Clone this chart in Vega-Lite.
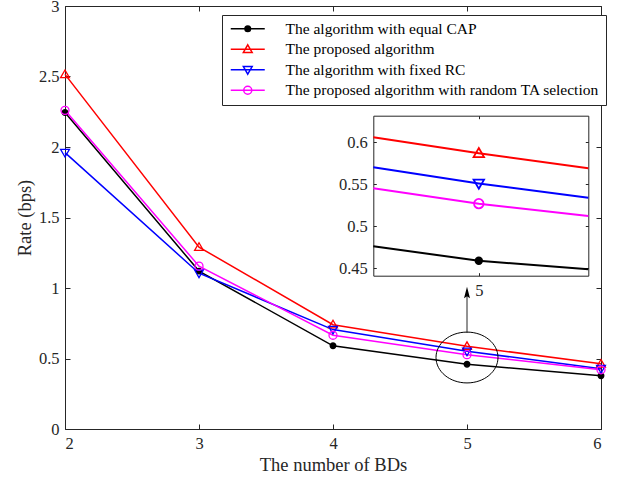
{
  "$schema": "https://vega.github.io/schema/vega-lite/v6.json",
  "width": 536,
  "height": 423,
  "autosize": "none",
  "padding": {"left": 65, "top": 6, "right": 19, "bottom": 49},
  "background": "white",
  "config": {
    "view": {"stroke": null},
    "font": "Liberation Serif",
    "axis": {
      "grid": false,
      "domainColor": "#262626",
      "tickColor": "#262626",
      "labelColor": "#262626",
      "titleColor": "#262626",
      "labelFont": "Liberation Serif",
      "titleFont": "Liberation Serif",
      "labelFontSize": 16.5,
      "titleFontSize": 18.5,
      "titleFontWeight": "normal"
    },
    "legend": {
      "labelFont": "Liberation Serif",
      "labelFontSize": 15.5,
      "labelColor": "#000000",
      "labelLimit": 500
    }
  },
  "datasets": {
    "main": [
      {"n": 2, "series": "The algorithm with equal CAP", "rate": 2.245},
      {"n": 3, "series": "The algorithm with equal CAP", "rate": 1.12},
      {"n": 4, "series": "The algorithm with equal CAP", "rate": 0.59},
      {"n": 5, "series": "The algorithm with equal CAP", "rate": 0.459},
      {"n": 6, "series": "The algorithm with equal CAP", "rate": 0.378},
      {"n": 2, "series": "The proposed algorithm", "rate": 2.515},
      {"n": 3, "series": "The proposed algorithm", "rate": 1.29},
      {"n": 4, "series": "The proposed algorithm", "rate": 0.74},
      {"n": 5, "series": "The proposed algorithm", "rate": 0.587},
      {"n": 6, "series": "The proposed algorithm", "rate": 0.462},
      {"n": 2, "series": "The algorithm with fixed RC", "rate": 1.96},
      {"n": 3, "series": "The algorithm with fixed RC", "rate": 1.105},
      {"n": 4, "series": "The algorithm with fixed RC", "rate": 0.705},
      {"n": 5, "series": "The algorithm with fixed RC", "rate": 0.551},
      {"n": 6, "series": "The algorithm with fixed RC", "rate": 0.428},
      {"n": 2, "series": "The proposed algorithm with random TA selection", "rate": 2.26},
      {"n": 3, "series": "The proposed algorithm with random TA selection", "rate": 1.155},
      {"n": 4, "series": "The proposed algorithm with random TA selection", "rate": 0.665},
      {"n": 5, "series": "The proposed algorithm with random TA selection", "rate": 0.527},
      {"n": 6, "series": "The proposed algorithm with random TA selection", "rate": 0.42}
    ],
    "inset": [
      {"n": 4.868, "series": "The algorithm with equal CAP", "rate": 0.4762},
      {"n": 5, "series": "The algorithm with equal CAP", "rate": 0.459},
      {"n": 5.137, "series": "The algorithm with equal CAP", "rate": 0.4488},
      {"n": 4.868, "series": "The proposed algorithm", "rate": 0.606},
      {"n": 5, "series": "The proposed algorithm", "rate": 0.587},
      {"n": 5.137, "series": "The proposed algorithm", "rate": 0.569},
      {"n": 4.868, "series": "The algorithm with fixed RC", "rate": 0.5702},
      {"n": 5, "series": "The algorithm with fixed RC", "rate": 0.551},
      {"n": 5.137, "series": "The algorithm with fixed RC", "rate": 0.534},
      {"n": 4.868, "series": "The proposed algorithm with random TA selection", "rate": 0.5452},
      {"n": 5, "series": "The proposed algorithm with random TA selection", "rate": 0.527},
      {"n": 5.137, "series": "The proposed algorithm with random TA selection", "rate": 0.5123}
    ],
    "ellipse": [{"n": 5, "rate": 0.507}],
    "arrow": [{"n": 5, "from": 0.681, "to": 0.95, "tip": 1.009}]
  },
  "layer": [
    {
      "layer": [
        {
          "data": {"name": "main"},
          "mark": {"type": "line", "strokeWidth": 1.5},
          "encoding": {
            "x": {"field": "n", "type": "quantitative", "scale": {"domain": [2, 6], "nice": false, "zero": false},
              "axis": {"orient": "bottom", "values": [2, 3, 4, 5, 6], "format": "d", "tickSize": -5, "labelPadding": 11, "title": "The number of BDs", "titlePadding": 4}},
            "y": {"field": "rate", "type": "quantitative", "scale": {"domain": [0, 3], "nice": false, "zero": false},
              "axis": {"orient": "left", "values": [0, 0.5, 1, 1.5, 2, 2.5, 3], "format": "~g", "tickSize": -5, "labelPadding": 11, "title": "Rate (bps)", "titlePadding": 4}},
            "color": {"field": "series", "type": "nominal",
              "scale": {"domain": ["The algorithm with equal CAP", "The proposed algorithm", "The algorithm with fixed RC", "The proposed algorithm with random TA selection"], "range": ["#000000", "#FF0000", "#0000FF", "#FF00FF"]},
              "legend": {
                "title": null, "orient": "none", "legendX": 157, "legendY": 9,
                "strokeColor": "#262626", "fillColor": "white", "padding": 6,
                "symbolSize": 64, "symbolOffset": 12, "labelOffset": 30, "rowPadding": 3.5, "symbolStrokeWidth": 1.5,
                "encode": {"symbols": {"update": {"shape": {"signal": "datum.value === 'The algorithm with equal CAP' ? 'M-4.25,0H4.25M0.7,0A0.7,0.7 0 1,1 -0.7,0A0.7,0.7 0 1,1 0.7,0Z' : datum.value === 'The proposed algorithm' ? 'M-4.25,0H4.25M0,-1.1L1.1,0.8L-1.1,0.8Z' : datum.value === 'The algorithm with fixed RC' ? 'M-4.25,0H4.25M0,1.1L1.1,-0.8L-1.1,-0.8Z' : 'M-4.25,0H4.25M1,0A1,1 0 1,1 -1,0A1,1 0 1,1 1,0Z'"}}}}
              }}
          }
        },
        {
          "data": {"name": "main"},
          "mark": {"type": "point", "filled": false, "opacity": 1, "size": 64, "strokeWidth": 1.3},
          "encoding": {
            "x": {"field": "n", "type": "quantitative", "scale": {"domain": [2, 6], "nice": false, "zero": false}, "axis": null},
            "y": {"field": "rate", "type": "quantitative", "scale": {"domain": [0, 3], "nice": false, "zero": false}, "axis": null},
            "color": {"field": "series", "type": "nominal",
              "scale": {"domain": ["The algorithm with equal CAP", "The proposed algorithm", "The algorithm with fixed RC", "The proposed algorithm with random TA selection"], "range": ["#000000", "#FF0000", "#0000FF", "#FF00FF"]}},
            "shape": {"field": "series", "type": "nominal", "legend": null,
              "scale": {"domain": ["The algorithm with fixed RC", "The algorithm with equal CAP", "The proposed algorithm", "The proposed algorithm with random TA selection"],
                "range": ["M0,1.1L1.1,-0.8L-1.1,-0.8Z", "M0.7,0A0.7,0.7 0 1,1 -0.7,0A0.7,0.7 0 1,1 0.7,0Z", "M0,-1.1L1.1,0.8L-1.1,0.8Z", "M1,0A1,1 0 1,1 -1,0A1,1 0 1,1 1,0Z"]}},
            "fill": {"field": "series", "type": "nominal",
              "scale": {"domain": ["The algorithm with equal CAP", "The proposed algorithm", "The algorithm with fixed RC", "The proposed algorithm with random TA selection"], "range": ["#000000", "transparent", "transparent", "transparent"]}}
          }
        },
        {
          "data": {"name": "main"},
          "mark": {"type": "line", "opacity": 0},
          "encoding": {
            "x": {"field": "n", "type": "quantitative", "scale": {"domain": [2, 6], "nice": false, "zero": false},
              "axis": {"orient": "top", "values": [2, 3, 4, 5, 6], "labels": false, "tickSize": -5, "title": null}},
            "y": {"field": "rate", "type": "quantitative", "scale": {"domain": [0, 3], "nice": false, "zero": false},
              "axis": {"orient": "right", "values": [0, 0.5, 1, 1.5, 2, 2.5, 3], "labels": false, "tickSize": -5, "title": null}}
          }
        },
        {
          "data": {"name": "ellipse"},
          "mark": {"type": "point", "shape": "M1,0A1,0.82 0 1,1 -1,0A1,0.82 0 1,1 1,0Z", "size": 3844, "filled": false, "stroke": "#000000", "strokeWidth": 1, "opacity": 1},
          "encoding": {
            "x": {"field": "n", "type": "quantitative", "scale": {"domain": [2, 6], "nice": false, "zero": false}, "axis": null},
            "y": {"field": "rate", "type": "quantitative", "scale": {"domain": [0, 3], "nice": false, "zero": false}, "axis": null}
          }
        },
        {
          "data": {"name": "arrow"},
          "mark": {"type": "rule", "color": "#262626", "strokeWidth": 1},
          "encoding": {
            "x": {"field": "n", "type": "quantitative", "scale": {"domain": [2, 6], "nice": false, "zero": false}, "axis": null},
            "y": {"field": "from", "type": "quantitative", "scale": {"domain": [0, 3], "nice": false, "zero": false}, "axis": null},
            "y2": {"field": "to"}
          }
        },
        {
          "data": {"name": "arrow"},
          "mark": {"type": "point", "shape": "M0,0L0.6,2.3L0,1.9L-0.6,2.3Z", "size": 100, "filled": true, "color": "#000000", "opacity": 1},
          "encoding": {
            "x": {"field": "n", "type": "quantitative", "scale": {"domain": [2, 6], "nice": false, "zero": false}, "axis": null},
            "y": {"field": "tip", "type": "quantitative", "scale": {"domain": [0, 3], "nice": false, "zero": false}, "axis": null}
          }
        }
      ],
      "resolve": {"axis": {"x": "independent", "y": "independent"}}
    },
    {
      "layer": [
        {
          "data": {"name": "inset"},
          "mark": {"type": "line", "strokeWidth": 2},
          "encoding": {
            "x": {"field": "n", "type": "quantitative", "scale": {"domain": [4.868, 5.137], "range": [308.3, 523.3], "nice": false, "zero": false},
              "axis": {"orient": "bottom", "offset": -153.3, "values": [5], "format": "d", "tickSize": -3, "labelPadding": 10, "title": null}},
            "y": {"field": "rate", "type": "quantitative", "scale": {"domain": [0.4412, 0.6317], "range": [269.7, 109.7], "nice": false, "zero": false},
              "axis": {"orient": "left", "offset": -308.3, "values": [0.45, 0.5, 0.55, 0.6], "format": "~g", "tickSize": -3, "labelPadding": 9, "title": null}},
            "color": {"field": "series", "type": "nominal"}
          }
        },
        {
          "data": {"name": "inset"},
          "transform": [{"filter": "datum.n === 5"}],
          "mark": {"type": "point", "filled": false, "opacity": 1, "size": 90, "strokeWidth": 1.8},
          "encoding": {
            "x": {"field": "n", "type": "quantitative", "scale": {"domain": [4.868, 5.137], "range": [308.3, 523.3], "nice": false, "zero": false}, "axis": null},
            "y": {"field": "rate", "type": "quantitative", "scale": {"domain": [0.4412, 0.6317], "range": [269.7, 109.7], "nice": false, "zero": false}, "axis": null},
            "color": {"field": "series", "type": "nominal"},
            "shape": {"field": "series", "type": "nominal", "legend": null,
              "scale": {"domain": ["The algorithm with fixed RC", "The algorithm with equal CAP", "The proposed algorithm", "The proposed algorithm with random TA selection"],
                "range": ["M0,1.1L1.1,-0.8L-1.1,-0.8Z", "M0.7,0A0.7,0.7 0 1,1 -0.7,0A0.7,0.7 0 1,1 0.7,0Z", "M0,-1.1L1.1,0.8L-1.1,0.8Z", "M1,0A1,1 0 1,1 -1,0A1,1 0 1,1 1,0Z"]}},
            "fill": {"field": "series", "type": "nominal"}
          }
        },
        {
          "data": {"name": "inset"},
          "mark": {"type": "line", "opacity": 0},
          "encoding": {
            "x": {"field": "n", "type": "quantitative", "scale": {"domain": [4.868, 5.137], "range": [308.3, 523.3], "nice": false, "zero": false},
              "axis": {"orient": "top", "offset": -109.7, "values": [5], "labels": false, "tickSize": -3, "title": null}},
            "y": {"field": "rate", "type": "quantitative", "scale": {"domain": [0.4412, 0.6317], "range": [269.7, 109.7], "nice": false, "zero": false},
              "axis": {"orient": "right", "offset": -12.7, "values": [0.45, 0.5, 0.55, 0.6], "labels": false, "tickSize": -3, "title": null}}
          }
        }
      ],
      "resolve": {"axis": {"x": "independent", "y": "independent"}}
    }
  ],
  "resolve": {"scale": {"x": "independent", "y": "independent"}}
}
